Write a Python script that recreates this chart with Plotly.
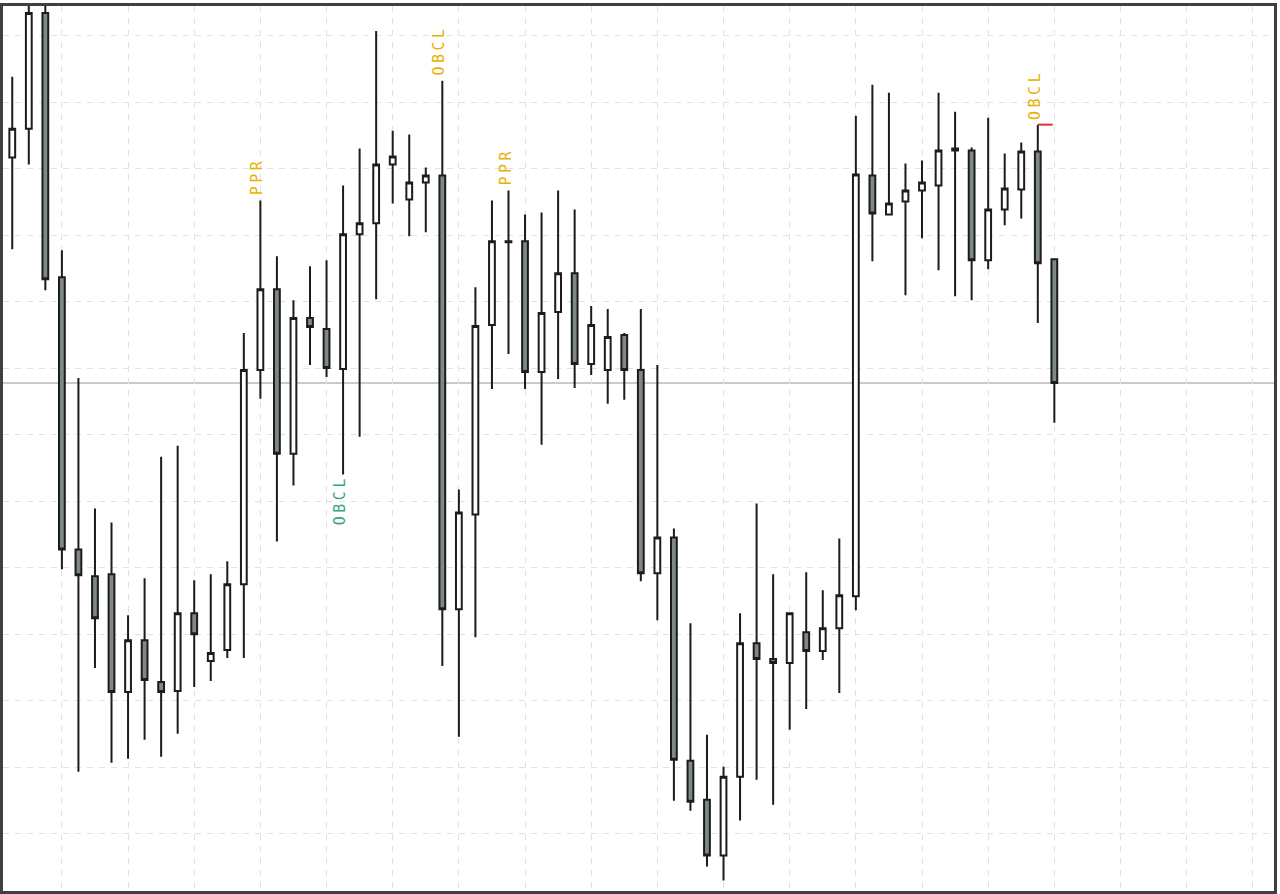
import plotly.graph_objects as go

# bar index, one candle per period
bars = list(range(64))

opens = [181.70, 186.05, 203.45, 163.70, 122.75, 118.70, 119.00, 101.30, 109.10, 102.80,
         101.45, 113.15, 105.95, 107.60, 117.50, 149.75, 161.90, 137.15, 157.55, 155.90,
         149.90, 170.15, 171.80, 180.65, 175.40, 177.95, 179.00, 113.75, 128.00, 156.50,
         168.95, 169.10, 149.45, 158.45, 164.30, 150.65, 149.75, 155.00, 149.75, 119.15,
         124.55, 90.95, 85.10, 76.70, 88.55, 108.65, 106.25, 105.65, 110.30, 107.45,
         110.90, 115.70, 179.00, 173.15, 175.10, 176.75, 177.50, 183.05, 182.75, 166.25,
         173.90, 176.90, 182.60, 166.40]
highs = [193.85, 204.95, 205.30, 167.75, 148.55, 128.90, 126.80, 112.85, 118.40, 136.70,
         138.35, 118.10, 119.00, 120.95, 155.30, 175.25, 166.85, 160.25, 165.35, 166.25,
         177.50, 183.05, 200.75, 185.75, 185.15, 180.20, 193.25, 131.75, 162.20, 175.25,
         176.75, 173.15, 173.45, 176.75, 173.90, 159.35, 158.90, 155.30, 158.90, 150.50,
         125.90, 111.65, 94.85, 90.05, 113.15, 129.65, 119.00, 113.15, 119.30, 116.60,
         124.40, 188.00, 192.65, 191.45, 180.80, 181.25, 191.45, 188.60, 183.20, 187.70,
         182.30, 183.95, 186.65, 166.55]
lows = [167.90, 180.65, 161.75, 119.75, 89.30, 104.90, 90.65, 91.25, 94.10, 91.55,
        95.00, 102.05, 102.95, 106.40, 106.40, 145.40, 123.95, 132.35, 150.50, 148.70,
        134.00, 139.70, 160.40, 174.80, 169.85, 170.45, 105.20, 94.55, 109.55, 146.90,
        152.15, 146.90, 138.50, 148.40, 147.05, 149.00, 144.65, 145.25, 117.95, 112.10,
        84.95, 83.45, 75.05, 72.95, 81.95, 88.10, 84.35, 95.60, 98.75, 106.10,
        101.15, 113.60, 166.10, 173.00, 161.00, 169.55, 164.75, 160.85, 160.25, 164.90,
        171.50, 172.55, 156.80, 141.80]
closes = [186.05, 203.45, 163.40, 122.75, 118.85, 112.40, 101.30, 109.10, 103.10, 101.30,
          113.15, 110.00, 107.15, 117.50, 149.75, 161.90, 137.15, 157.55, 156.20, 150.05,
          170.15, 171.80, 180.65, 181.85, 177.95, 179.00, 113.75, 128.30, 156.35, 169.10,
          169.10, 149.45, 158.30, 164.30, 150.65, 156.50, 154.70, 149.75, 119.15, 124.55,
          91.10, 84.80, 76.70, 88.55, 108.65, 106.25, 105.65, 113.15, 107.45, 110.90,
          115.85, 179.15, 173.30, 174.80, 176.75, 177.95, 182.75, 182.75, 166.25, 173.90,
          177.05, 182.60, 165.80, 147.80]

# pattern labels: (bar, text, above/below, colour)
labels = [(15, "PPR", "above", "#e8b100"),
          (20, "OBCL", "below", "#3aa57c"),
          (26, "OBCL", "above", "#e8b100"),
          (30, "PPR", "above", "#e8b100"),
          (62, "OBCL", "above", "#e8b100")]

fig = go.Figure()
fig.add_trace(go.Candlestick(
    x=bars, open=opens, high=highs, low=lows, close=closes,
    increasing=dict(line=dict(color="#1c1c1c", width=2), fillcolor="#ffffff"),
    decreasing=dict(line=dict(color="#1c1c1c", width=2), fillcolor="#7e8886"),
    whiskerwidth=0, showlegend=False, hoverinfo="skip",
))

# last price line
fig.add_hline(y=closes[-1], line=dict(color="#b8b8b8", width=1.5), layer="below")
# small red level mark on the last OBCL bar
fig.add_shape(type="line", x0=62, x1=62.9, y0=highs[62], y1=highs[62],
              line=dict(color="#c83a30", width=2))

# a little extra room between the letters
gap = '<span style="font-family:DejaVu Sans;font-size:11px"> </span>'
for b, txt, side, col in labels:
    if side == "above":
        yv, anc = highs[b], "bottom"
    else:
        yv, anc = lows[b], "top"
    fig.add_annotation(x=b, y=yv, text=gap.join(txt), showarrow=False,
                       textangle=-90, yanchor=anc, xanchor="center", xshift=-3,
                       yshift=3 if anc == "bottom" else -2,
                       font=dict(family="DejaVu Sans Mono", size=15, color=col))

fig.update_xaxes(range=[-0.56, 76.28], tickvals=list(range(3, 77, 4)), showticklabels=False,
                 showgrid=True, gridcolor="#e2e2e2", griddash="6px,6px", gridwidth=1,
                 zeroline=False, rangeslider_visible=False,
                 showline=True, linecolor="#3f3f3f", linewidth=3, mirror=True, ticks="")
fig.update_yaxes(range=[71.36, 204.5], tickvals=list(range(80, 201, 10)), showticklabels=False,
                 showgrid=True, gridcolor="#e2e2e2", griddash="6px,6px", gridwidth=1,
                 zeroline=False,
                 showline=True, linecolor="#3f3f3f", linewidth=3, mirror=True, ticks="")
fig.update_layout(width=1280, height=894, margin=dict(l=3, r=3, t=3, b=3),
                  paper_bgcolor="#ffffff", plot_bgcolor="#ffffff", boxgap=0.5)

fig.write_html("out.html", config={"displayModeBar": False},
               post_script="document.body.style.margin='0';")
